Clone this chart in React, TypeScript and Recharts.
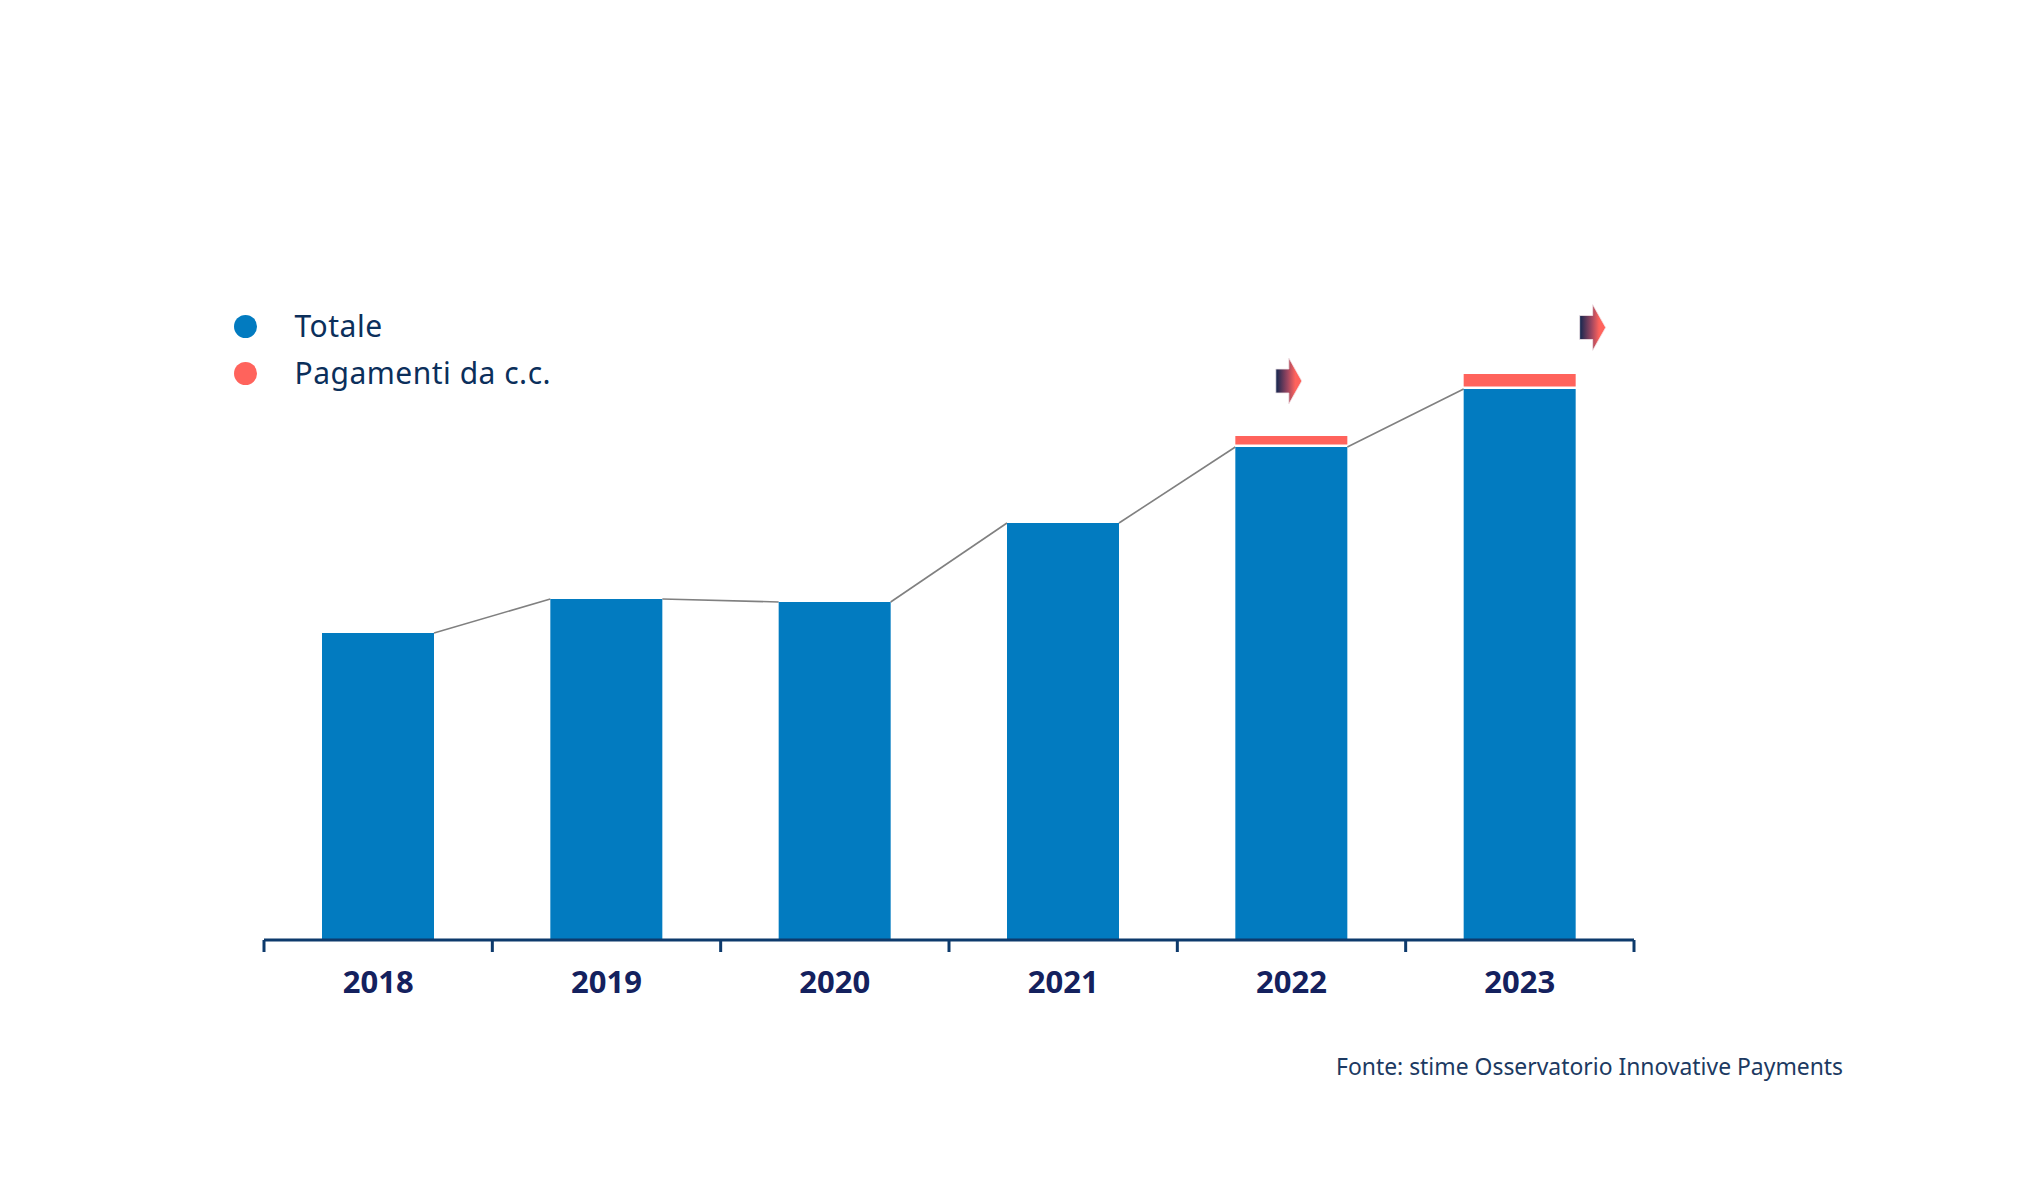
import React from 'react';
import { BarChart, Bar, XAxis, YAxis, Legend } from 'recharts';

const YEARS = ['2018', '2019', '2020', '2021', '2022', '2023'];
const TOTALE = [30.7, 34.1, 33.8, 41.7, 49.3, 55.1];
const PAGAMENTI_CC = [0, 0, 0, 0, 1.1, 1.5];
const SERIES_NAMES = ['Totale', 'Pagamenti da c.c.'];
const SOURCE = 'Fonte: stime Osservatorio Innovative Payments';

const data = YEARS.map((year, i) => ({ year, totale: TOTALE[i], pagamenti: PAGAMENTI_CC[i] }));

const W = 2040;
const H = 1200;
const MARGIN = { top: 140, right: 406, bottom: 200, left: 264 };
const PLOT_W = W - MARGIN.left - MARGIN.right;
const BAND = PLOT_W / YEARS.length;

const BLUE = '#027bc0';
const CORAL = '#ff635c';
const AXIS = '#0d3a6c';
const FONT = "'Noto Sans', 'Open Sans', sans-serif";

const ARROW_POS: Record<number, [number, number]> = { 4: [40.5, -55], 5: [116, -46.5] };

const BlueShape = (props: any) => {
  const { x, y, width, height, index, fill } = props;
  if (!(height > 0)) return null;
  let connector = null;
  if (index < TOTALE.length - 1) {
    const ppu = height / TOTALE[index];
    const base = y + height;
    const nx = x + BAND;
    const ny = base - TOTALE[index + 1] * ppu;
    connector = <line x1={x + width} y1={y} x2={nx} y2={ny} stroke="#808080" strokeWidth={1.6} />;
  }
  return (
    <g>
      <rect x={x} y={y} width={width} height={height} fill={fill} />
      {connector}
    </g>
  );
};

const RedShape = (props: any) => {
  const { x, y, width, height, index, fill } = props;
  if (!(height > 0)) return null;
  const pos = ARROW_POS[index];
  let arrow = null;
  if (pos) {
    const x0 = x + pos[0];
    const yc = y + pos[1];
    const gid = `arrowGrad${index}`;
    const d = `M${x0},${yc - 12} L${x0 + 13},${yc - 12} L${x0 + 13},${yc - 23} L${x0 + 26},${yc} L${x0 + 13},${yc + 23} L${x0 + 13},${yc + 12} L${x0},${yc + 12} Z`;
    arrow = (
      <g>
        <defs>
          <linearGradient id={gid} x1="0" y1="0" x2="1" y2="0">
            <stop offset="0%" stopColor="#10264f" />
            <stop offset="45%" stopColor="#9c4660" />
            <stop offset="75%" stopColor={CORAL} />
            <stop offset="100%" stopColor={CORAL} />
          </linearGradient>
        </defs>
        <path d={d} fill={`url(#${gid})`} stroke="#f3e6ea" strokeWidth={0.8} />
      </g>
    );
  }
  return (
    <g>
      <rect x={x} y={y} width={width} height={Math.max(height - 2.5, 0)} fill={fill} />
      {arrow}
    </g>
  );
};

const YearTick = (props: any) => {
  const { x, y, payload, index } = props;
  const left = x - BAND / 2;
  const right = x + BAND / 2;
  return (
    <g>
      <line x1={left} y1={y} x2={left} y2={y + 12} stroke={AXIS} strokeWidth={3} />
      {index === YEARS.length - 1 && (
        <line x1={right} y1={y} x2={right} y2={y + 12} stroke={AXIS} strokeWidth={3} />
      )}
      <text x={x} y={y + 53} textAnchor="middle" fontFamily={FONT} fontWeight={700} fontSize={31} fill="#14215e">
        {payload.value}
      </text>
    </g>
  );
};

const renderLegend = (props: any) => {
  const items = [...(props.payload || [])].sort(
    (a: any, b: any) => SERIES_NAMES.indexOf(a.value) - SERIES_NAMES.indexOf(b.value)
  );
  return (
    <div style={{ position: 'absolute', left: 233.5, top: 302.5 }}>
      {items.map((entry: any, i: number) => (
        <div key={i} style={{ display: 'flex', alignItems: 'center', height: 47 }}>
          <span
            style={{
              display: 'inline-block',
              width: 23,
              height: 23,
              borderRadius: '50%',
              background: entry.color,
            }}
          />
          <span
            style={{
              marginLeft: 38,
              fontFamily: FONT,
              fontSize: 30,
              letterSpacing: '0.5px',
              lineHeight: '30px',
              color: '#0b2f5b',
              whiteSpace: 'nowrap',
            }}
          >
            {entry.value}
          </span>
        </div>
      ))}
    </div>
  );
};

export default function App() {
  return (
    <div style={{ position: 'absolute', left: 0, top: 0, width: W, height: H, background: '#ffffff' }}>
      <BarChart width={W} height={H} data={data} margin={MARGIN}>
        <XAxis
          dataKey="year"
          height={60}
          interval={0}
          tickSize={0}
          tickMargin={0}
          tickLine={false}
          axisLine={{ stroke: AXIS, strokeWidth: 3 }}
          tick={<YearTick />}
        />
        <YAxis hide domain={[0, 80]} />
        <Legend
          content={renderLegend}
          itemSorter={null as any}
          wrapperStyle={{ position: 'absolute', left: 0, top: 0, width: 0, height: 0 }}
        />
        <Bar
          dataKey="totale"
          name={SERIES_NAMES[0]}
          stackId="a"
          fill={BLUE}
          barSize={112}
          shape={<BlueShape />}
          isAnimationActive={false}
        />
        <Bar
          dataKey="pagamenti"
          name={SERIES_NAMES[1]}
          stackId="a"
          fill={CORAL}
          barSize={112}
          shape={<RedShape />}
          isAnimationActive={false}
        />
      </BarChart>
      <div
        style={{
          position: 'absolute',
          left: 1336,
          top: 1054,
          width: 520,
          fontFamily: FONT,
          fontSize: 22.9,
          lineHeight: '26px',
          color: '#1c3a62',
          whiteSpace: 'nowrap',
        }}
      >
        {SOURCE}
      </div>
    </div>
  );
}
